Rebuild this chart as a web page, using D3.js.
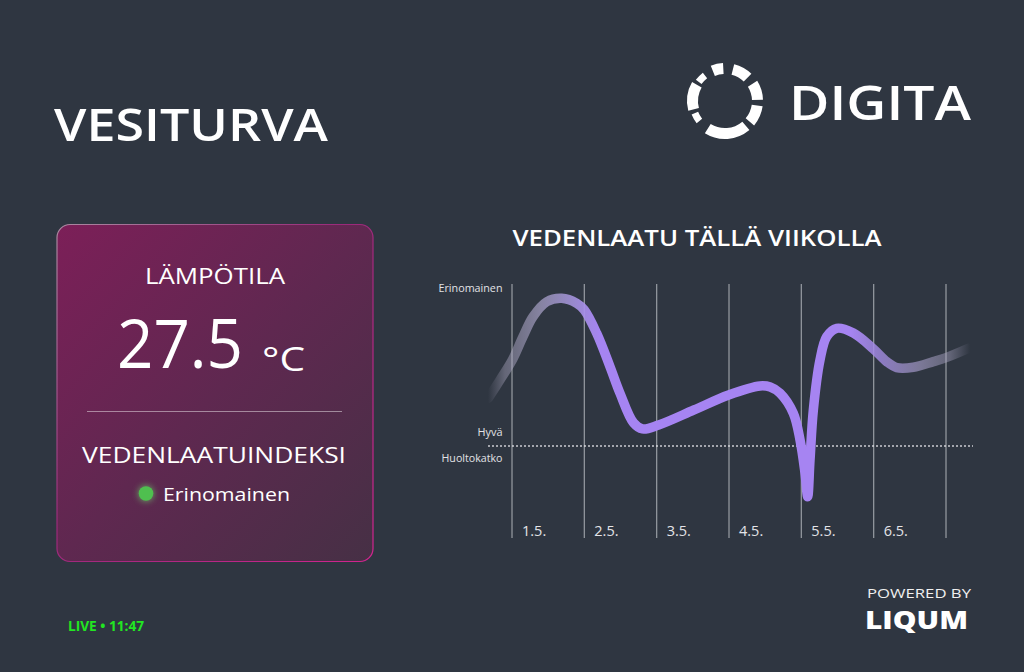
<!DOCTYPE html>
<html>
<head>
<meta charset="utf-8">
<script src="https://cdn.jsdelivr.net/npm/d3@7"></script>
<style>
  html, body { margin: 0; padding: 0; background: #2f3641; }
  svg { display: block; }
  text { font-family: "Open Sans", "Noto Sans", sans-serif; }
</style>
</head>
<body>
<svg id="chart" width="1024" height="672"></svg>
<script>
// ---------- data ----------
const days = ["1.5.", "2.5.", "3.5.", "4.5.", "5.5.", "6.5."];
const qualityLabels = ["Erinomainen", "Hyvä", "Huoltokatko"];
const qualityLabelValues = [100, 8.5, -7.8];
const thresholdValue = 0;
// time (days since start of 1.5.) and quality index
const seriesT = [-0.328, -0.166, 0.004, 0.152, 0.290, 0.480, 0.687, 0.895, 1.0, 1.171, 1.355, 1.493, 1.681, 1.804, 2.027, 2.516, 2.995, 3.429, 3.57, 3.705, 3.889, 3.982, 4.051, 4.088, 4.120, 4.166, 4.258, 4.351, 4.489, 4.719, 4.995, 5.180, 5.319, 5.548, 5.825, 6.010, 6.309];
const seriesV = [30.2, 41.8, 54.4, 69.2, 81.8, 91.3, 93.5, 90.3, 86.1, 71.3, 50.2, 33.4, 14.6, 10.8, 13.3, 22.8, 32.3, 38.0, 37.3, 33.4, 20.7, 3.8, -17.1, -32.1, -8.9, 22.8, 54.4, 69.2, 74.5, 71.5, 61.5, 53.4, 49.6, 49.8, 53.4, 56.1, 61.8];
const temperature = "27.5";
const tempUnit = "°C";
const statusText = "Erinomainen";
const liveText = "LIVE • 11:47";

const svg = d3.select("#chart");
svg.append("rect").attr("width", 1024).attr("height", 672).attr("fill", "#2f3641");
const defs = svg.append("defs");

// ---------- header ----------
svg.append("text").attr("x", 54).attr("y", 141).attr("fill", "#fff")
  .attr("font-size", 46).attr("font-weight", 600)
  .attr("textLength", 274).attr("lengthAdjust", "spacingAndGlyphs")
  .text("VESITURVA");

// DIGITA logo ring
const ringSegs = [
  [-22, -3, 27, 38], [14, 44, 27, 38], [58, 88, 27, 38], [98, 130, 27, 38],
  [140, 212, 27, 38], [232, 248, 29, 36], [255, 300, 27, 38], [306, 322, 29, 36]
];
const arc = d3.arc();
const ring = svg.append("g").attr("transform", "translate(725,101)");
ring.selectAll("path").data(ringSegs).join("path")
  .attr("d", d => arc({ innerRadius: d[2], outerRadius: d[3], startAngle: d[0] * Math.PI / 180, endAngle: d[1] * Math.PI / 180 }))
  .attr("fill", "#fff");
svg.append("text").attr("x", 789).attr("y", 120).attr("fill", "#fff")
  .attr("font-size", 47).attr("font-weight", 600)
  .attr("textLength", 182).attr("lengthAdjust", "spacingAndGlyphs")
  .text("DIGITA");

// ---------- card ----------
const cg = defs.append("linearGradient").attr("id", "cardFill")
  .attr("x1", 0).attr("y1", 0).attr("x2", 1).attr("y2", 1);
cg.append("stop").attr("offset", 0).attr("stop-color", "#7c1f58");
cg.append("stop").attr("offset", 0.5).attr("stop-color", "#5f2850");
cg.append("stop").attr("offset", 1).attr("stop-color", "#463045");
const cb = defs.append("linearGradient").attr("id", "cardStroke")
  .attr("x1", 0).attr("y1", 0).attr("x2", 1).attr("y2", 1);
cb.append("stop").attr("offset", 0).attr("stop-color", "#a98aa0");
cb.append("stop").attr("offset", 0.45).attr("stop-color", "#9a2a7a");
cb.append("stop").attr("offset", 1).attr("stop-color", "#d2248f");
svg.append("rect").attr("x", 57).attr("y", 224.5).attr("width", 316).attr("height", 337)
  .attr("rx", 13).attr("fill", "url(#cardFill)").attr("stroke", "url(#cardStroke)").attr("stroke-width", 1.2);

svg.append("text").attr("x", 215).attr("y", 284).attr("text-anchor", "middle").attr("fill", "#fff")
  .attr("font-size", 22).attr("textLength", 140).attr("lengthAdjust", "spacingAndGlyphs").text("LÄMPÖTILA");
svg.append("text").attr("x", 117).attr("y", 368).attr("fill", "#fff")
  .attr("font-size", 67).attr("textLength", 126).attr("lengthAdjust", "spacingAndGlyphs").text(temperature);
svg.append("text").attr("x", 262).attr("y", 371).attr("fill", "#fff")
  .attr("font-size", 32).attr("textLength", 43).attr("lengthAdjust", "spacingAndGlyphs").text(tempUnit);
svg.append("line").attr("x1", 87).attr("x2", 342).attr("y1", 411.5).attr("y2", 411.5)
  .attr("stroke", "rgba(255,255,255,0.45)").attr("stroke-width", 1.2);
svg.append("text").attr("x", 214).attr("y", 463).attr("text-anchor", "middle").attr("fill", "#fff")
  .attr("font-size", 22).attr("textLength", 264).attr("lengthAdjust", "spacingAndGlyphs").text("VEDENLAATUINDEKSI");

const glow = defs.append("filter").attr("id", "glow").attr("x", -1).attr("y", -1).attr("width", 3).attr("height", 3);
glow.append("feGaussianBlur").attr("stdDeviation", 3);
svg.append("circle").attr("cx", 146).attr("cy", 493.5).attr("r", 8).attr("fill", "#6fe06f").attr("opacity", 0.6).attr("filter", "url(#glow)");
svg.append("circle").attr("cx", 146).attr("cy", 493.5).attr("r", 7.3).attr("fill", "#4fbf4f");
svg.append("text").attr("x", 163).attr("y", 501).attr("fill", "#fff")
  .attr("font-size", 19).attr("textLength", 127).attr("lengthAdjust", "spacingAndGlyphs").text(statusText);

// ---------- chart ----------
svg.append("text").attr("x", 697).attr("y", 246).attr("text-anchor", "middle").attr("fill", "#fff")
  .attr("font-size", 22).attr("font-weight", 600)
  .attr("textLength", 369).attr("lengthAdjust", "spacingAndGlyphs").text("VEDENLAATU TÄLLÄ VIIKOLLA");

const x = d3.scaleLinear().domain([0, days.length]).range([512, 946]);
const y = d3.scaleLinear().domain([0, 100]).range([446, 288]);

// vertical day lines
svg.append("g").selectAll("line").data(d3.range(days.length + 1)).join("line")
  .attr("x1", d => x(d)).attr("x2", d => x(d)).attr("y1", 284).attr("y2", 538)
  .attr("stroke", "rgba(225,228,232,0.55)").attr("stroke-width", 1.3);

// day labels
svg.append("g").selectAll("text").data(days).join("text")
  .attr("x", (d, i) => x(i) + 10).attr("y", 536).attr("fill", "#e4e4e8")
  .attr("font-size", 14.5).text(d => d);

// threshold dotted line
svg.append("line").attr("x1", 488).attr("x2", 973).attr("y1", y(thresholdValue)).attr("y2", y(thresholdValue))
  .attr("stroke", "rgba(230,230,235,0.85)").attr("stroke-width", 1.3).attr("stroke-dasharray", "2,2");

// quality labels
const lw = [64, 25, 61];
svg.append("g").selectAll("text").data(qualityLabels).join("text")
  .attr("x", 502.5).attr("y", (d, i) => y(qualityLabelValues[i]) + 3.8).attr("text-anchor", "end")
  .attr("fill", "#e2e2e6").attr("font-size", 10.5)
  .attr("textLength", (d, i) => lw[i]).attr("lengthAdjust", "spacingAndGlyphs")
  .text(d => d);

// line gradient
const lg = defs.append("linearGradient").attr("id", "lineGrad").attr("gradientUnits", "userSpaceOnUse")
  .attr("x1", 488).attr("x2", 970).attr("y1", 0).attr("y2", 0);
[[0, "rgba(170,165,190,0)"], [0.035, "rgba(180,175,200,0.4)"], [0.108, "rgba(180,172,212,0.65)"],
 [0.18, "rgba(172,152,232,0.85)"], [0.232, "#a684f2"], [0.751, "#a684f2"],
 [0.813, "rgba(165,140,230,0.8)"], [0.896, "rgba(175,165,210,0.6)"], [0.959, "rgba(180,175,205,0.38)"],
 [1, "rgba(180,175,205,0)"]].forEach(s => lg.append("stop").attr("offset", s[0]).attr("stop-color", s[1]));

const pts = seriesT.map((t, i) => [t, seriesV[i]]);
const line = d3.line().x(d => x(d[0])).y(d => y(d[1])).curve(d3.curveCatmullRom.alpha(0.5));
svg.append("path").attr("d", line(pts)).attr("fill", "none")
  .attr("stroke", "url(#lineGrad)").attr("stroke-width", 9.5)
  .attr("stroke-linecap", "round").attr("stroke-linejoin", "round");

// ---------- footer ----------
svg.append("text").attr("x", 68).attr("y", 631).attr("fill", "#22e622")
  .attr("font-size", 13.5).attr("font-weight", 700)
  .attr("textLength", 76).attr("lengthAdjust", "spacingAndGlyphs").text(liveText);
svg.append("text").attr("x", 971).attr("y", 598).attr("text-anchor", "end").attr("fill", "#f0f0f0")
  .attr("font-size", 13.5).attr("textLength", 104).attr("lengthAdjust", "spacingAndGlyphs").text("POWERED BY");
svg.append("text").attr("x", 968).attr("y", 629).attr("text-anchor", "end").attr("fill", "#fff")
  .attr("font-size", 24).attr("font-weight", 800)
  .attr("textLength", 103).attr("lengthAdjust", "spacingAndGlyphs").text("LIQUM");
</script>
</body>
</html>
